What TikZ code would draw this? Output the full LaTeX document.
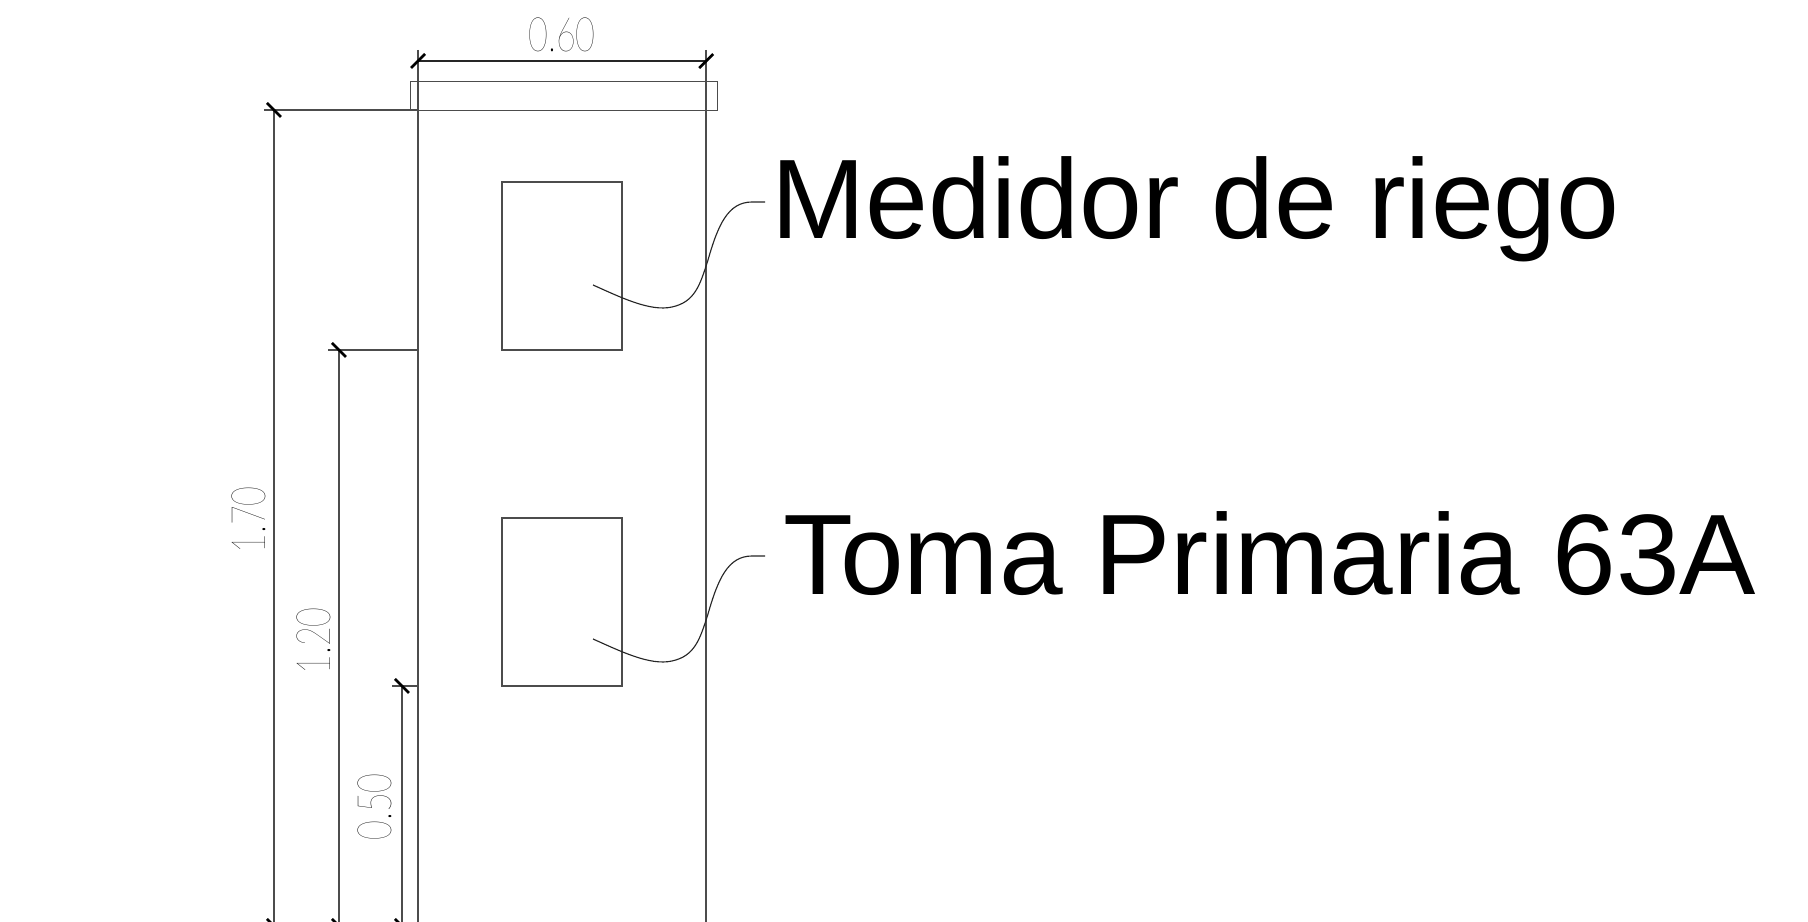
\documentclass[tikz,border=0pt]{standalone}
\usepackage{fontspec}
\setmainfont{Liberation Sans}
\newfontfamily\dimfont[FakeStretch=0.72]{Lato Thin}
\begin{document}
\begin{tikzpicture}[x=0.01cm,y=-0.01cm,inner sep=0pt,outer sep=0pt,
thinline/.style={draw=black!70,line width=0.42pt},
dimline/.style={draw=black!85,line width=0.36pt},
tickmark/.style={draw=black,line width=0.75pt},
leader/.style={draw=black!85,line width=0.32pt},
boxshape/.style={thinline,rectangle,minimum width=1.20cm,minimum height=1.68cm},
medtext/.style={font=\fontsize{32.15}{36}\selectfont,anchor=base west},
tomatext/.style={font=\fontsize{32.55}{36}\selectfont,anchor=base west},
dimtext/.style={font=\dimfont\fontsize{13.5}{15}\selectfont,text=black}]

\clip (0,0) rectangle (1808,922);
\fill[white] (0,0) rectangle (1808,922);

% wall, cap and the two boxes
\node[thinline,rectangle,minimum width=3.065cm,minimum height=0.29cm] (cap) at (564,96) {};
\node[boxshape] (medbox) at (562,266) {};
\node[boxshape] (tomabox) at (562,602) {};
\coordinate (walltl) at (418,50);
\coordinate (walltr) at (706.2,50);
\draw[thinline] (walltl) -- (418,922);
\draw[thinline] (walltr) -- (706.2,922);

% top dimension
\draw[dimline] (walltl |- 0,61) -- node[above=2.6pt,dimtext] (dimw) {0.60} (walltr |- 0,61);

% height dimensions
\coordinate (dima) at (274,110);
\coordinate (dimb) at (339,350);
\coordinate (dimc) at (402,686);
\draw[thinline] (264,110) -- (418,110);
\draw[thinline] (328,350) -- (418,350);
\draw[thinline] (392,686) -- (418,686);
\draw[thinline] (dima) -- (274,930);
\draw[thinline] (dimb) -- (339,930);
\draw[thinline] (dimc) -- (402,930);
\node[dimtext,rotate=90] (lba) at (249,520) {1.70};
\node[dimtext,rotate=90] (lbb) at (314,641) {1.20};
\node[dimtext,rotate=90] (lbc) at (375,807) {0.50};

\foreach \p in {(418,61),(706.2,61)}
  \draw[tickmark] \p ++(-7,7) -- ++(14,-14);
\foreach \p in {(274,110),(339,350),(402,686),(274,926),(339,926),(402,926)}
  \draw[tickmark] \p ++(-7,-7) -- ++(14,14);

% labels and leaders
\node[medtext] (medlabel) at (771.5,239) {Medidor de riego};
\node[tomatext] (tomalabel) at (783,595) {Toma Primaria 63A};
\coordinate (medstart) at (593,285);
\coordinate (medend) at (765,202);
\coordinate (tomastart) at (593,639);
\coordinate (tomaend) at (765,556);
\draw[leader] (medstart) .. controls (620,297) and (650,312) .. (672,307)
  .. controls (695,302) and (700,285) .. (708,260)
  .. controls (718,225) and (728,202) .. (752,202) -- (medend);
\draw[leader] (tomastart) .. controls (620,651) and (650,666) .. (672,661)
  .. controls (695,656) and (700,639) .. (708,614)
  .. controls (718,579) and (728,556) .. (752,556) -- (tomaend);
\end{tikzpicture}
\end{document}
